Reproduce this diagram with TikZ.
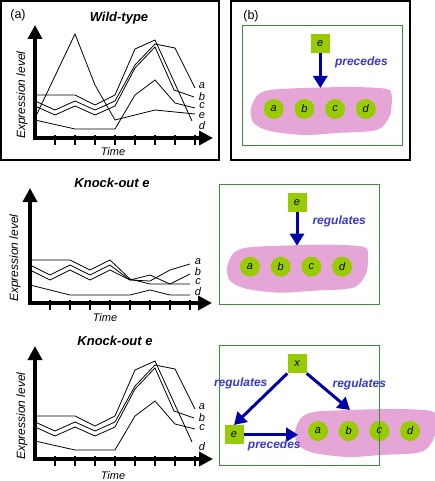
\documentclass[tikz,border=0pt]{standalone}
\usepackage{fontspec}
\setmainfont{Liberation Sans}
\usetikzlibrary{arrows.meta}
\definecolor{genegreen}{RGB}{153,204,0}
\definecolor{blobpink}{RGB}{230,165,215}
\definecolor{arrowblue}{RGB}{0,0,170}
\definecolor{labelblue}{RGB}{55,55,215}
\definecolor{framegreen}{RGB}{60,140,60}
\newcommand{\fsize}[1]{\fontsize{#1}{#1}\selectfont}
% the four profiles shared by wild-type and the last knock-out
\newcommand{\sharedcurves}{
    \draw[curve] (35,95) -- (75,95) -- (95,105) -- (115,95) -- (135,49) -- (155,40) -- (192,121);
    \draw[curve] (35,101) -- (55,110) -- (75,101) -- (95,110) -- (115,101) -- (135,65) -- (155,44) -- (175,48) -- (195,88);
    \draw[curve] (35,106) -- (55,115) -- (75,106) -- (95,115) -- (115,106) -- (135,68) -- (155,47) -- (174,90) -- (194,97);
    \draw[curve] (35,120) -- (75,129) -- (115,129) -- (135,95) -- (155,80) -- (175,103) -- (195,108);
}
\tikzset{
    axis/.style={line width=4pt, {Triangle[width=14pt,length=14pt]}-{Triangle[width=14pt,length=14pt]}},
    tickmark/.style={line width=1.5pt},
    curve/.style={line width=0.8pt},
    charttitle/.style={font=\fsize{13}\bfseries\itshape},
    axislabel/.style={font=\fsize{12}\itshape},
    timelabel/.style={font=\fsize{11}\itshape},
    curvelabel/.style={font=\fsize{11}\itshape, inner sep=0pt},
    panellabel/.style={font=\fsize{12.5}},
    panelframe/.style={draw, line width=2pt},
    modelframe/.style={draw=framegreen, line width=1pt},
    gene/.style={circle, fill=genegreen, minimum size=20pt, inner sep=0pt, font=\fsize{11}\itshape},
    regulator/.style={rectangle, fill=genegreen, minimum size=19pt, inner sep=0pt, font=\fsize{11}\itshape},
    relation/.style={line width=3pt, draw=arrowblue, -{Triangle[width=14pt,length=12pt]}},
    relationlabel/.style={text=labelblue, font=\fsize{12}\bfseries\itshape},
    cluster/.pic={
        \fill[blobpink] plot[smooth cycle] coordinates {(0,22) (6,8) (19,2) (53,0) (103,-1) (136,1) (141,8) (139,28) (126,42) (86,45) (53,47) (19,43) (3,35)};
        \foreach \g [count=\i from 0] in {a,b,c,d}
            \node[gene] (-\g) at (23+30.7*\i,21) {\g};
        \coordinate (-top) at (70,0);
        \coordinate (-mid) at (55,0);
        \coordinate (-left) at (3,25);
    }
}

\begin{document}
\begin{tikzpicture}[x=1pt,y=-1pt]
    \useasboundingbox (0,0) rectangle (435,481);

    % (a) wild-type
    \draw[panelframe] (1,1) rectangle (219,160);
    \node[panellabel] (labelA) at (18,15) {(a)};
    \node[charttitle] (titleWild) at (119,18) {Wild-type};
    \coordinate (wildTop) at (35,25);
    \coordinate (wildOrigin) at (35,138);
    \coordinate (wildEnd) at (213,138);
    \draw[axis] (wildTop) -- (wildOrigin) -- (wildEnd);
    \foreach \t in {55,75,...,195}
        \draw[tickmark] (\t,135) -- (\t,145);
    \sharedcurves
    \draw[curve] (35,118) -- (75,34) -- (95,85) -- (115,120) -- (155,110) -- (195,114);
    \node[axislabel, rotate=90] (yWild) at (22,95) {Expression level};
    \node[timelabel] (tWild) at (113,152) {Time};
    \node[curvelabel] (wa) at (202,86) {a};
    \node[curvelabel] (wb) at (202,96.5) {b};
    \node[curvelabel] (wc) at (202,106) {c};
    \node[curvelabel] (we) at (202,115.5) {e};
    \node[curvelabel] (wd) at (202,126) {d};

    % (b) model for wild-type
    \draw[panelframe] (231,1) rectangle (410,160);
    \node[panellabel] (labelB) at (251,16) {(b)};
    \pic (blobOrder) at (250.7,88) {cluster};
    \node[regulator] (eOrder) at (320.3,43.5) {e};
    \draw[relation] (eOrder.south) -- (eOrder.south |- blobOrder-top);
    \node[relationlabel, anchor=west] (precOrder) at (331.5,62.7) {precedes};
    \draw[modelframe] (242.7,25.3) rectangle (402.7,145.3);

    % knock-out e, first
    \node[charttitle] (titleKnock) at (112,183) {Knock-out e};
    \coordinate (knockTop) at (30,188);
    \coordinate (knockOrigin) at (30,303);
    \coordinate (knockEnd) at (212,303);
    \draw[axis] (knockTop) -- (knockOrigin) -- (knockEnd);
    \foreach \t in {50,70,...,190}
        \draw[tickmark] (\t,300) -- (\t,310);
    \draw[curve] (30,260) -- (70,260) -- (90,270) -- (110,260) -- (130,279) -- (150,284) -- (190,284);
    \draw[curve] (30,265) -- (50,275) -- (70,265) -- (90,275) -- (110,265) -- (130,280) -- (150,275) -- (170,284) -- (190,274);
    \draw[curve] (30,270) -- (50,280) -- (70,270) -- (90,280) -- (110,270) -- (130,280) -- (150,281) -- (170,270) -- (190,264);
    \draw[curve] (30,285) -- (70,295) -- (130,295) -- (150,290) -- (170,295) -- (190,295);
    \node[axislabel, rotate=90] (yKnock) at (15,258) {Expression level};
    \node[timelabel] (tKnock) at (105,318) {Time};
    \node[curvelabel] (ka) at (198,262) {a};
    \node[curvelabel] (kb) at (198,272) {b};
    \node[curvelabel] (kc) at (198,282) {c};
    \node[curvelabel] (kd) at (198,291.5) {d};

    \pic (blobReg) at (227,245.7) {cluster};
    \node[regulator] (eReg) at (297,202.7) {e};
    \draw[relation] (eReg.south) -- (eReg.south |- blobReg-top);
    \node[relationlabel, anchor=west] (regReg) at (309,221) {regulates};
    \draw[modelframe] (219.3,184.3) rectangle (379.3,304.3);

    % knock-out e, second
    \node[charttitle] (titleHidden) at (115,341) {Knock-out e};
    \begin{scope}[shift={(0,321)}]
        \coordinate (hiddenTop) at (35,25);
        \coordinate (hiddenOrigin) at (35,138);
        \coordinate (hiddenEnd) at (213,138);
        \draw[axis] (hiddenTop) -- (hiddenOrigin) -- (hiddenEnd);
        \foreach \t in {55,75,...,195}
            \draw[tickmark] (\t,135) -- (\t,145);
        \sharedcurves
        \node[axislabel, rotate=90] (yHidden) at (22,95) {Expression level};
        \node[timelabel] (tHidden) at (113,155) {Time};
        \node[curvelabel] (ha) at (202,86) {a};
        \node[curvelabel] (hb) at (202,96.5) {b};
        \node[curvelabel] (hc) at (202,106.5) {c};
        \node[curvelabel] (hd) at (202,126) {d};
    \end{scope}

    \pic (blobHidden) at (295,410) {cluster};
    \node[regulator] (xHidden) at (297,363.7) {x};
    \node[regulator] (eHidden) at (234,434.7) {e};
    \draw[relation] (xHidden.south west) -- (eHidden.north);
    \draw[relation] (xHidden.south east) -- (blobHidden-mid);
    \draw[relation] (eHidden.east) -- (eHidden.east -| blobHidden-left);
    \node[relationlabel] (regLeft) at (240.7,383.3) {regulates};
    \node[relationlabel] (regRight) at (359.3,384) {regulates};
    \node[relationlabel] (precHidden) at (274.3,445.5) {precedes};
    \draw[modelframe] (219.3,345.7) rectangle (379.3,465.7);
\end{tikzpicture}
\end{document}
